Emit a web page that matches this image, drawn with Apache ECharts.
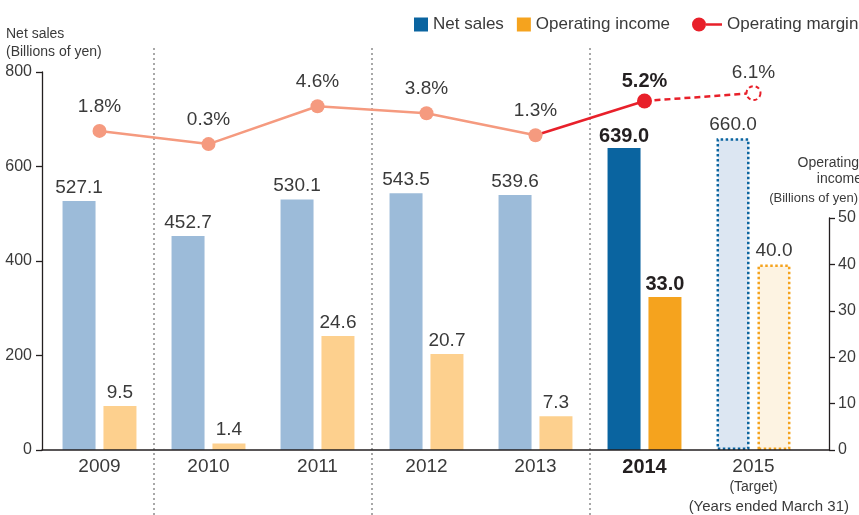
<!DOCTYPE html>
<html>
<head>
<meta charset="utf-8">
<script src="https://cdn.jsdelivr.net/npm/echarts@6/dist/echarts.min.js"></script>
<style>
html, body { margin: 0; padding: 0; background: #fff; }
#chart { width: 859px; height: 515px; }
</style>
</head>
<body>
<div id="chart"></div>
<script>
// data
var years = ['2009', '2010', '2011', '2012', '2013', '2014', '2015'];
var netSales = [527.1, 452.7, 530.1, 543.5, 539.6, 639.0, 660.0];
var opIncome = [9.5, 1.4, 24.6, 20.7, 7.3, 33.0, 40.0];
var opMargin = [1.8, 0.3, 4.6, 3.8, 1.3, 5.2, 6.1];
var ACTUAL = 5, TARGET = 6; // 2014 result, 2015 target

var FONT = '"Liberation Sans", Arial, sans-serif';
var TXT = '#3a3a3a';
var DARK = '#231f20';
var BLUE = '#0a64a0', BLUE_L = '#9cbbd9', BLUE_T = '#dce6f2';
var ORG = '#f5a31e', ORG_L = '#fdd08e', ORG_T = '#fdf3e2';
var RED = '#e8202a', SALMON = '#f59a7f';

var myChart = echarts.init(document.getElementById('chart'));

function barData(arr, light, target, border) {
	return arr.map(function(v, i) {
		var item = { value: v };
		if (i < ACTUAL) item.itemStyle = { color: light };
		if (i === ACTUAL) item.label = { fontWeight: 'bold', color: DARK, fontSize: 20, distance: 2 };
		if (i === TARGET) item.itemStyle = { color: target, borderColor: border, borderWidth: 2.5, borderType: 'dotted' };
		return item;
	});
}

var barLabel = {
	show: true,
	position: 'top',
	distance: 4,
	fontFamily: FONT,
	fontSize: 19,
	color: TXT,
	formatter: function(p) { return p.value.toFixed(1); }
};
var pctLabel = {
	show: true,
	position: 'top',
	distance: 8,
	fontFamily: FONT,
	fontSize: 19,
	color: TXT,
	formatter: function(p) { return p.value.toFixed(1) + '%'; }
};

var option = {
	animation: false,
	backgroundColor: '#fff',
	textStyle: { fontFamily: FONT },
	legend: [{
		left: 409, top: 11,
		itemWidth: 14, itemHeight: 14, itemGap: 13,
		icon: 'rect',
		selectedMode: false,
		data: ['Net sales', 'Operating income'],
		textStyle: { fontFamily: FONT, fontSize: 17, color: TXT }
	}, {
		left: 687, top: 11,
		itemWidth: 30, itemHeight: 14,
		icon: 'path://M0,7A7,7,0,1,1,14,7A7,7,0,1,1,0,7Z M14,5.8H30V8.2H14Z',
		selectedMode: false,
		data: ['Operating margin'],
		textStyle: { fontFamily: FONT, fontSize: 17, color: TXT }
	}],
	grid: [
		{ left: 45, right: 51, top: 72, bottom: 65 },   // bars + line
		{ left: 42, right: 30, top: 218, bottom: 65 },  // right axis + baseline
		{ left: -64, width: 981, top: 48, bottom: 0, outerBoundsMode: 'none' }   // dotted separators
	],
	xAxis: [{
		type: 'category',
		gridIndex: 0,
		data: years,
		axisLine: { show: false },
		axisTick: { show: false },
		axisLabel: {
			interval: 0,
			margin: 6,
			fontSize: 19,
			lineHeight: 22,
			color: TXT,
			formatter: function(v, i) {
				if (i === ACTUAL) return '{b|' + v + '}';
				if (i === TARGET) return v + '\n{t|(Target)}';
				return v;
			},
			rich: {
				b: { fontSize: 20, fontWeight: 'bold', color: DARK, lineHeight: 22 },
				t: { fontSize: 14, color: TXT, lineHeight: 18 }
			}
		}
	}, {
		type: 'value',
		gridIndex: 1,
		min: 0, max: 1,
		z: 5,
		axisLine: { show: true, lineStyle: { color: DARK, width: 1.5 } },
		axisTick: { show: false },
		axisLabel: { show: false },
		splitLine: { show: false }
	}, {
		type: 'category',
		gridIndex: 2,
		data: [''].concat(years, ['']),
		axisLine: { show: false },
		axisTick: { show: false },
		axisLabel: { show: false },
		splitLine: {
			show: true,
			interval: function(i) { return i === 2 || i === 4 || i === 6; },
			lineStyle: { color: '#8c8c8c', width: 1.5, type: [2, 3] }
		}
	}],
	yAxis: [{
		type: 'value',
		gridIndex: 0,
		position: 'left',
		offset: 3,
		min: 0, max: 800, interval: 200,
		axisLine: { show: true, lineStyle: { color: DARK, width: 1.3 } },
		axisTick: { show: true, length: 6, lineStyle: { color: DARK, width: 1.3 } },
		axisLabel: { margin: 10, fontSize: 16, color: TXT },
		splitLine: { show: false }
	}, {
		// operating income, same px/unit as visible right axis
		type: 'value',
		gridIndex: 0,
		show: false,
		min: 0, max: 81.5
	}, {
		// operating margin
		type: 'value',
		gridIndex: 0,
		show: false,
		min: -34.5, max: 8.5
	}, {
		type: 'value',
		gridIndex: 1,
		position: 'right',
		min: 0, max: 50, interval: 10,
		axisLine: { show: true, onZero: false, lineStyle: { color: DARK, width: 1.3 } },
		axisTick: { show: true, length: 6, lineStyle: { color: DARK, width: 1.3 } },
		axisLabel: { margin: 9, fontSize: 16, color: TXT },
		splitLine: { show: false }
	}, {
		type: 'value',
		gridIndex: 2,
		show: false
	}],
	graphic: [
		{ type: 'text', x: 6, y: 34, style: { text: 'Net sales', font: '14px ' + FONT, fill: TXT, verticalAlign: 'middle' } },
		{ type: 'text', x: 6, y: 52, style: { text: '(Billions of yen)', font: '14px ' + FONT, fill: TXT, verticalAlign: 'middle' } },
		{ type: 'text', x: 859, y: 163, style: { text: 'Operating', font: '14px ' + FONT, fill: TXT, align: 'right', verticalAlign: 'middle' } },
		{ type: 'text', x: 862, y: 179, style: { text: 'income', font: '14px ' + FONT, fill: TXT, align: 'right', verticalAlign: 'middle' } },
		{ type: 'text', x: 858, y: 198, style: { text: '(Billions of yen)', font: '13px ' + FONT, fill: TXT, align: 'right', verticalAlign: 'middle' } },
		{ type: 'text', x: 849, y: 507, style: { text: '(Years ended March 31)', font: '15px ' + FONT, fill: TXT, align: 'right', verticalAlign: 'middle' } }
	],
	series: [{
		name: 'Net sales',
		type: 'bar',
		xAxisIndex: 0, yAxisIndex: 0,
		barWidth: 33,
		barGap: '24%',
		itemStyle: { color: BLUE },
		label: barLabel,
		data: barData(netSales, BLUE_L, BLUE_T, BLUE)
	}, {
		name: 'Operating income',
		type: 'bar',
		xAxisIndex: 0, yAxisIndex: 1,
		barWidth: 33,
		barGap: '24%',
		itemStyle: { color: ORG },
		label: barLabel,
		data: barData(opIncome, ORG_L, ORG_T, ORG)
	}, {
		// 2013 -> 2014 actual, solid red
		name: 'Operating margin',
		type: 'line',
		xAxisIndex: 0, yAxisIndex: 2,
		z: 3,
		symbol: 'circle',
		itemStyle: { color: RED },
		lineStyle: { color: RED, width: 2.5 },
		label: pctLabel,
		data: opMargin.map(function(v, i) {
			if (i === ACTUAL - 1) return { value: v, symbol: 'none', label: { show: false } };
			if (i === ACTUAL) return { value: v, symbolSize: 15, label: { fontWeight: 'bold', color: DARK, fontSize: 20, distance: 2 } };
			return '-';
		})
	}, {
		// 2014 -> 2015 target, dashed red
		name: 'margin-target',
		type: 'line',
		xAxisIndex: 0, yAxisIndex: 2,
		z: 3,
		symbol: 'circle',
		itemStyle: { color: RED },
		lineStyle: { color: RED, width: 2.5, type: [6, 4] },
		label: pctLabel,
		data: opMargin.map(function(v, i) {
			if (i === ACTUAL) return { value: v, symbol: 'none', label: { show: false } };
			if (i === TARGET) return {
				value: v, symbolSize: 14,
				itemStyle: { color: '#fff', borderColor: RED, borderWidth: 2, borderType: [4, 3] },
				label: { distance: 3 }
			};
			return '-';
		})
	}, {
		// 2009 - 2013
		name: 'margin-past',
		type: 'line',
		xAxisIndex: 0, yAxisIndex: 2,
		z: 4,
		symbol: 'circle',
		symbolSize: 14,
		itemStyle: { color: SALMON },
		lineStyle: { color: SALMON, width: 2.5 },
		label: pctLabel,
		data: opMargin.map(function(v, i) { return i < ACTUAL ? v : '-'; })
	}]
};

myChart.setOption(option);
</script>
</body>
</html>
